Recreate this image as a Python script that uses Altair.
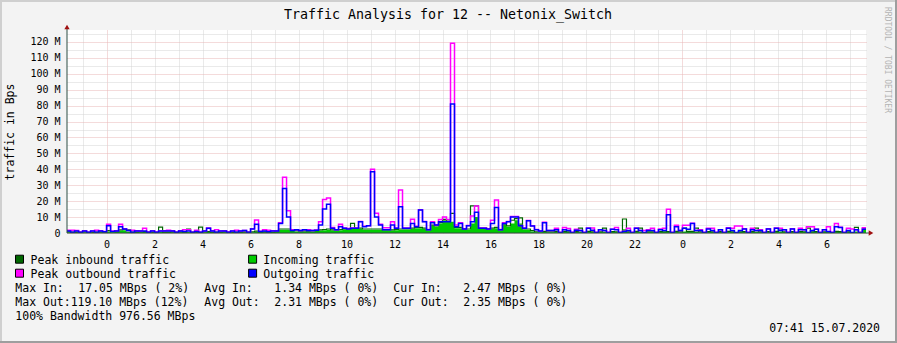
import altair as alt
import pandas as pd

MONO = "DejaVu Sans Mono"

# ---- sampling grid: 10-minute samples, hours relative to midnight (day 2) ----
START_HOUR = -5 / 3          # 22:20 on the first day
STEP_HOURS = 1 / 6           # 10 minutes

# ---- series values in MBps ----
outgoing = [
    1.2, 0.4, 1.3, 0.5, 1.3, 0.4, 1.2, 0.5, 1.3, 0.8,
    4.5, 1.0, 1.3, 4.0, 2.5, 1.5, 0.5, 1.3, 1.2, 1.3,
    0.5, 1.3, 0.5, 1.2, 1.3, 1.2, 1.3, 0.4, 1.3, 1.0,
    1.2, 0.4, 1.0, 0.5, 1.2, 3.0, 1.3, 0.5, 1.2, 1.3,
    0.5, 1.2, 0.4, 1.2, 1.5, 0.4, 2.5, 5.5, 1.0, 1.3,
    0.8, 1.3, 1.3, 6.0, 28.0, 10.0, 1.5, 2.0, 1.5, 2.0,
    1.5, 1.5, 1.8, 5.0, 15.0, 18.0, 3.0, 2.0, 4.0, 3.0,
    2.5, 3.0, 3.0, 7.0, 4.0, 4.5, 38.5, 10.0, 5.0, 2.0,
    2.0, 5.0, 3.0, 16.5, 3.0, 3.0, 6.0, 4.0, 14.5, 7.0,
    2.0, 6.5, 5.0, 7.0, 7.0, 7.0, 81.0, 4.0, 6.0, 2.5,
    4.5, 7.0, 13.0, 3.0, 3.0, 2.5, 6.0, 16.0, 2.0, 6.0,
    7.0, 10.0, 10.0, 4.5, 3.0, 7.7, 4.4, 2.0, 1.2, 6.5,
    1.5, 1.5, 2.0, 0.3, 2.0, 1.5, 0.3, 1.8, 1.5, 0.3,
    3.0, 1.8, 0.3, 2.0, 1.5, 0.3, 2.3, 2.0, 0.3, 1.0,
    1.5, 0.3, 3.0, 1.5, 0.3, 1.5, 1.5, 0.3, 2.0, 1.5,
    11.5, 0.3, 4.0, 1.5, 3.0, 2.3, 6.0, 1.5, 1.5, 0.3,
    2.5, 1.5, 0.3, 2.0, 0.3, 3.0, 1.5, 0.3, 1.5, 2.5,
    0.3, 2.0, 1.5, 1.5, 0.3, 2.5, 0.3, 3.0, 1.5, 2.0,
    0.3, 2.5, 0.3, 2.0, 2.0, 0.3, 1.5, 2.3, 0.3, 2.0,
    1.0, 0.3, 4.0, 3.5, 0.3, 1.5, 0.3, 2.0, 0.3, 2.35,
]

peak_outbound = [
    1.8, 1.8, 1.5, 0.6, 1.4, 0.5, 1.3, 1.8, 1.4, 1.0,
    5.5, 1.2, 1.4, 5.5, 2.6, 1.6, 1.8, 1.4, 1.3, 3.0,
    0.6, 1.4, 0.6, 1.3, 1.4, 1.8, 1.4, 0.5, 1.4, 2.0,
    2.0, 0.5, 1.8, 0.6, 1.3, 3.1, 1.4, 2.0, 1.3, 1.4,
    0.6, 1.3, 1.8, 1.3, 1.6, 0.5, 2.6, 8.2, 1.1, 2.0,
    1.8, 1.4, 1.4, 6.5, 35.0, 14.0, 2.0, 2.1, 1.6, 2.1,
    2.0, 1.6, 1.9, 7.0, 21.0, 22.0, 3.5, 2.1, 5.5, 3.2,
    2.8, 3.2, 3.2, 7.2, 4.2, 4.6, 40.0, 12.4, 5.5, 3.3,
    3.3, 7.0, 3.2, 27.0, 3.2, 3.2, 8.6, 4.2, 14.6, 7.2,
    2.2, 7.0, 5.2, 8.5, 10.0, 8.5, 119.1, 5.0, 6.5, 2.7,
    4.7, 10.7, 17.0, 3.2, 3.2, 2.7, 8.0, 20.7, 2.2, 6.5,
    7.2, 10.3, 10.3, 4.7, 3.2, 7.8, 4.5, 2.2, 1.3, 6.7,
    1.6, 1.6, 3.0, 0.4, 3.5, 2.8, 0.4, 2.3, 1.6, 0.4,
    3.1, 3.2, 0.4, 2.1, 1.6, 0.4, 2.4, 3.5, 0.4, 1.1,
    3.0, 0.4, 3.1, 1.6, 1.5, 2.0, 3.0, 0.4, 2.5, 3.0,
    14.9, 0.4, 4.8, 1.6, 4.8, 4.8, 6.1, 1.6, 2.0, 0.4,
    3.0, 3.0, 0.4, 2.1, 0.4, 3.3, 3.0, 4.4, 4.4, 2.6,
    0.4, 3.0, 1.6, 2.0, 0.4, 2.6, 0.4, 3.1, 3.0, 2.1,
    0.4, 2.6, 0.4, 3.0, 2.1, 4.0, 4.0, 2.4, 0.4, 2.1,
    4.0, 0.4, 6.0, 3.6, 0.4, 3.0, 2.5, 2.1, 0.4, 3.3,
]

incoming = [
    0.5, 0.3, 0.4, 0.3, 0.5, 0.3, 0.4, 0.3, 0.5, 0.4,
    1.0, 0.5, 0.6, 1.5, 1.8, 1.0, 0.3, 0.4, 0.5, 0.6,
    0.3, 0.4, 0.4, 0.8, 0.4, 0.4, 0.5, 0.3, 0.5, 0.4,
    0.6, 0.3, 0.4, 0.8, 0.5, 0.6, 0.4, 0.3, 0.4, 0.5,
    0.3, 0.4, 0.3, 0.4, 0.5, 0.3, 0.5, 0.8, 0.4, 0.5,
    0.3, 0.4, 0.6, 2.0, 2.0, 2.0, 1.2, 1.0, 0.8, 1.0,
    0.8, 1.0, 1.2, 1.5, 1.8, 2.0, 1.5, 1.5, 1.8, 2.3,
    2.0, 2.5, 2.5, 2.5, 2.0, 2.0, 2.0, 2.0, 2.0, 1.5,
    1.5, 1.5, 1.8, 2.0, 2.0, 2.0, 2.5, 3.0, 3.0, 2.5,
    1.5, 4.5, 4.0, 6.0, 8.0, 7.0, 7.0, 3.0, 3.0, 2.0,
    2.0, 6.0, 10.0, 2.5, 2.5, 2.0, 2.5, 3.0, 1.5, 5.0,
    4.0, 6.0, 8.0, 6.0, 2.0, 2.0, 1.0, 0.5, 0.5, 0.8,
    0.5, 0.5, 0.8, 0.2, 0.8, 0.6, 0.2, 0.7, 1.0, 0.2,
    0.8, 0.6, 0.2, 0.6, 1.0, 0.2, 0.7, 0.6, 0.2, 2.3,
    0.6, 0.2, 0.8, 1.0, 0.2, 0.6, 0.6, 0.2, 0.7, 0.6,
    0.6, 0.2, 0.8, 0.5, 1.0, 0.8, 0.8, 1.0, 0.5, 0.2,
    0.7, 0.6, 0.2, 0.7, 0.2, 0.8, 0.6, 0.2, 0.6, 0.7,
    0.2, 0.7, 1.0, 0.5, 0.2, 0.7, 0.2, 0.8, 1.0, 0.6,
    0.2, 0.7, 0.2, 0.7, 0.6, 0.4, 0.6, 0.7, 0.2, 0.6,
    0.5, 0.2, 0.8, 0.7, 0.2, 0.6, 0.2, 1.0, 0.2, 2.47,
]

peak_inbound = [
    0.8, 0.5, 0.6, 0.5, 0.8, 0.4, 0.6, 0.5, 0.7, 0.6,
    1.5, 0.8, 0.8, 2.0, 2.2, 2.0, 0.5, 0.6, 0.7, 0.9,
    0.5, 0.6, 0.6, 3.7, 0.6, 0.6, 0.7, 0.5, 0.7, 0.6,
    2.5, 0.5, 0.6, 3.7, 0.8, 0.9, 0.6, 0.5, 0.6, 0.7,
    0.5, 0.6, 0.5, 0.6, 0.7, 0.5, 0.8, 1.2, 0.6, 0.7,
    0.5, 0.6, 0.8, 2.5, 2.5, 2.5, 1.5, 1.4, 1.2, 1.3,
    1.2, 1.3, 1.5, 2.0, 2.2, 2.5, 2.0, 2.0, 2.2, 2.8,
    2.5, 6.0, 3.0, 3.0, 2.5, 2.5, 2.5, 2.5, 2.5, 2.0,
    2.0, 2.0, 2.2, 2.5, 2.5, 2.5, 3.0, 3.5, 3.5, 3.0,
    2.0, 5.0, 4.5, 6.5, 8.5, 7.5, 12.3, 3.5, 3.5, 2.5,
    2.5, 17.05, 17.05, 3.0, 3.0, 2.5, 3.0, 3.5, 2.0, 5.5,
    4.5, 8.0, 9.0, 9.5, 2.5, 2.5, 1.5, 0.8, 0.8, 1.0,
    0.8, 0.8, 1.0, 0.3, 1.0, 0.8, 0.3, 0.9, 3.0, 0.3,
    1.0, 0.8, 0.3, 0.8, 3.0, 0.3, 0.9, 0.8, 0.3, 8.8,
    0.8, 0.3, 1.0, 3.0, 0.3, 0.8, 0.8, 0.3, 0.9, 0.8,
    0.9, 0.3, 1.0, 0.8, 3.0, 1.0, 1.0, 3.0, 0.8, 0.3,
    0.9, 0.8, 0.3, 0.9, 0.3, 1.0, 0.8, 0.3, 0.8, 0.9,
    0.3, 0.9, 3.0, 0.7, 0.3, 0.9, 0.3, 1.0, 2.5, 0.8,
    0.3, 0.9, 0.3, 0.9, 0.8, 3.0, 0.8, 0.9, 0.3, 0.8,
    0.7, 0.3, 1.0, 0.9, 0.3, 0.8, 0.3, 3.5, 0.3, 3.0,
]

series_names = ["Peak inbound traffic", "Incoming traffic",
                "Peak outbound traffic", "Outgoing traffic"]
series_colors = ["#006600", "#00CC00", "#FF00FF", "#0000FF"]

title_text = "Traffic Analysis for 12 -- Netonix_Switch"
y_title_text = "traffic in Bps"
watermark_text = "RRDTOOL / TOBI OETIKER"
stats_row1 = [(0, "Max In:"), (9, "17.05 MBps ( 2%)"), (27, "Avg In:"),
              (37, "1.34 MBps ( 0%)"), (54, "Cur In:"), (64, "2.47 MBps ( 0%)")]
stats_row2 = [(0, "Max Out:119.10 MBps (12%)"), (27, "Avg Out:"),
              (37, "2.31 MBps ( 0%)"), (54, "Cur Out:"), (64, "2.35 MBps ( 0%)")]
bandwidth_text = "100% Bandwidth 976.56 MBps"
stamp_text = "07:41 15.07.2020"

assert len(outgoing) == len(peak_outbound) == len(incoming) == len(peak_inbound) == 200

# ---- table for the library (last sample repeated to close the final step) ----
n = len(outgoing)
df = pd.DataFrame({
    "hour": [START_HOUR + i * STEP_HOURS for i in range(n + 1)],
    "out": outgoing + outgoing[-1:],
    "pout": peak_outbound + peak_outbound[-1:],
    "inn": incoming + incoming[-1:],
    "pin": peak_inbound + peak_inbound[-1:],
})

W, H = 799, 203
X_DOMAIN = [-1.65, 31.65]
Y_DOMAIN = [0, 127.5]

MINOR_GRID = "#d4d4d4"
MAJOR_GRID = "#e8b6b6"

x_axis = alt.Axis(
    values=list(range(-1, 32)),
    labelExpr="datum.value % 2 === 0 ? '' + ((datum.value + 24) % 24) : ''",
    grid=True,
    gridColor={"condition": {"test": "datum.value % 24 === 0", "value": MAJOR_GRID},
               "value": MINOR_GRID},
    gridDash=[1, 1], gridWidth=1,
    domain=False, ticks=False,
    labelFont=MONO, labelFontSize=10, labelColor="black", labelPadding=6,
    labelAngle=0, labelFlush=False, labelOverlap=False, labelBound=False,
    title=None,
)
y_axis = alt.Axis(
    values=list(range(0, 130, 5)),
    labelExpr="datum.value % 10 === 0 ? (datum.value === 0 ? '0' : datum.value + ' M') : ''",
    grid=True,
    gridColor={"condition": {"test": "datum.value % 10 === 0", "value": MAJOR_GRID},
               "value": MINOR_GRID},
    gridDash=[1, 1], gridWidth=1,
    domain=False, ticks=False,
    labelFont=MONO, labelFontSize=10, labelColor="black", labelPadding=7,
    labelOverlap=False, labelFlush=False,
    title=None,
)

x_enc = alt.X("hour:Q", scale=alt.Scale(domain=X_DOMAIN, nice=False, zero=False), axis=x_axis)


def y_enc(field):
    return alt.Y(f"{field}:Q", scale=alt.Scale(domain=Y_DOMAIN, nice=False), axis=y_axis)


base = alt.Chart(df)
area_in = base.mark_area(interpolate="step-after", color=series_colors[1], clip=True).encode(
    x=x_enc, y=y_enc("inn"))
line_pin = base.mark_line(interpolate="step-after", color=series_colors[0], strokeWidth=1.2,
                          clip=True).encode(x=x_enc, y=y_enc("pin"))
line_pout = base.mark_line(interpolate="step-after", color=series_colors[2], strokeWidth=1.5,
                           clip=True).encode(x=x_enc, y=y_enc("pout"))
line_out = base.mark_line(interpolate="step-after", color=series_colors[3], strokeWidth=1.5,
                          clip=True).encode(x=x_enc, y=y_enc("out"))

anchor = pd.DataFrame({"k": [0]})


def text(s, x, y, size=11.5, align="left", angle=0, color="black", baseline="alphabetic"):
    return alt.Chart(anchor).mark_text(
        text=s, font=MONO, fontSize=size, align=align, baseline=baseline,
        angle=angle, color=color).encode(x=alt.value(x), y=alt.value(y))


def hrule(x1, x2, y, color, w=1):
    return alt.Chart(anchor).mark_rule(color=color, strokeWidth=w).encode(
        x=alt.value(x1), x2=alt.value(x2), y=alt.value(y))


def vrule(x, y1, y2, color, w=1):
    return alt.Chart(anchor).mark_rule(color=color, strokeWidth=w).encode(
        x=alt.value(x), y=alt.value(y1), y2=alt.value(y2))


# view origin is at canvas (67, 30)
OX, OY = 67, 30
layers = [area_in, line_pin, line_pout, line_out]

AXIS_COLOR = "#2C4D43"
ARROW_COLOR = "#A01010"
layers += [
    hrule(0, W + 3, H, AXIS_COLOR),
    vrule(0, -2, H, AXIS_COLOR),
    alt.Chart(anchor).mark_point(shape="triangle-up", filled=True, size=28, color=ARROW_COLOR,
                                 opacity=1).encode(x=alt.value(0), y=alt.value(-3)),
    alt.Chart(anchor).mark_point(shape="triangle-right", filled=True, size=28, color=ARROW_COLOR,
                                 opacity=1).encode(x=alt.value(W + 5), y=alt.value(H)),
]

# texts
layers += [
    text(title_text, 448 - OX, 18.5 - OY, size=13.3, align="center"),
    text(y_title_text, 11 - OX, 132 - OY, size=11.5, align="center", angle=270, baseline="middle"),
    text(watermark_text, 886.5 - OX, 60 - OY, size=8, align="center", angle=90,
         baseline="middle", color="#b4b4b4"),
    text(stamp_text, 880 - OX, 332 - OY, align="right"),
]

# legend
sq_cols = [19.5, 252.6]
lab_cols = [30.6, 263.3]
rows = [263.5, 277.5]
order = [(0, 0), (0, 1), (1, 0), (1, 1)]  # (row, col) for each series
for (r, c), name, col in zip(order, series_names, series_colors):
    layers.append(
        alt.Chart(anchor).mark_square(size=64, filled=True, color=col, stroke="black",
                                      strokeWidth=1, opacity=1).encode(
            x=alt.value(sq_cols[c] - OX), y=alt.value(rows[r] - 4.3 - OY)))
    layers.append(text(name, lab_cols[c] - OX, rows[r] - OY))

CHAR = 7.0
LEFT = 15.3
for baseline_y, row in [(291.5, stats_row1), (305.5, stats_row2)]:
    for col_idx, s in row:
        layers.append(text(s, LEFT + CHAR * col_idx - OX, baseline_y - OY))
layers.append(text(bandwidth_text, LEFT - OX, 319.5 - OY))

# frame shading
layers += [
    hrule(-OX, 897 - OX, 1 - OY, "#CFCFCF", 2),
    vrule(1 - OX, -OY, 343 - OY, "#CFCFCF", 2),
    hrule(-OX, 897 - OX, 342 - OY, "#9E9E9E", 2),
    vrule(896 - OX, -OY, 343 - OY, "#9E9E9E", 2),
]

chart = alt.layer(*layers).properties(
    width=W, height=H,
    padding={"left": OX, "top": OY, "right": 897 - OX - W, "bottom": 343 - OY - H},
    autosize=alt.AutoSizeParams(type="none"),
    background="#F3F3F3",
).configure_view(fill="white", stroke=None)

chart.save("out.html", embed_options={"renderer": "svg", "actions": False})
